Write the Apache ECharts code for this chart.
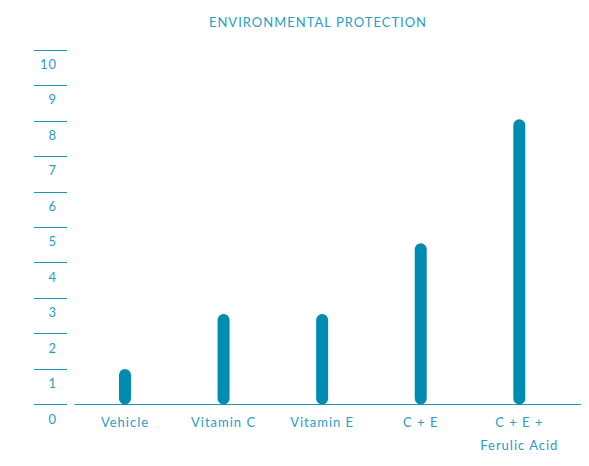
<!DOCTYPE html>
<html>
<head>
<meta charset="utf-8">
<script src="https://cdn.jsdelivr.net/npm/echarts@6/dist/echarts.min.js"></script>
<style>
html,body{margin:0;padding:0;background:#fff;}
#chart{width:589px;height:466px;letter-spacing:1px;}
</style>
</head>
<body>
<div id="chart"></div>
<script>
const title = 'ENVIRONMENTAL PROTECTION';
const categories = ['Vehicle', 'Vitamin C', 'Vitamin E', 'C + E', 'C + E +\nFerulic Acid'];
const values = [1, 2.55, 2.55, 4.55, 8.05];
const yTicks = [0, 1, 2, 3, 4, 5, 6, 7, 8, 9, 10];

const teal = '#1a96bb';
const barColor = '#008cb0';
const textColor = '#2a9dc4';
const font = 'Lato';

const chart = echarts.init(document.getElementById('chart'), null, {renderer: 'svg'});
const gridTop = 50, gridBottom = 61.5;
chart.setOption({
  animation: false,
  backgroundColor: '#fff',
  title: {
    text: title, left: 313, top: 10, textAlign: 'center',
    textStyle: {color: textColor, fontSize: 13, fontWeight: 'normal', fontFamily: font}
  },
  grid: [
    {left: 34, width: 33, top: gridTop, bottom: gridBottom},
    {left: 75.7, right: 20.4, top: gridTop, bottom: gridBottom},
    {left: 75, right: 8.3, top: gridTop, bottom: gridBottom}
  ],
  xAxis: [
    {gridIndex: 0, type: 'value', show: false},
    {gridIndex: 1, type: 'category', data: categories,
     axisLine: {show: false}, axisTick: {show: false},
     axisLabel: {color: textColor, fontSize: 13, fontFamily: font, lineHeight: 23, margin: 6, interval: 0}},
    {gridIndex: 2, type: 'category', data: [''], boundaryGap: false,
     axisLine: {show: true, lineStyle: {color: teal, width: 1}},
     axisTick: {show: false}, axisLabel: {show: false}}
  ],
  yAxis: [
    {gridIndex: 0, type: 'value', min: yTicks[0], max: yTicks[yTicks.length - 1], interval: 1,
     axisLine: {show: false}, axisTick: {show: false},
     splitLine: {show: true, lineStyle: {color: teal, width: 1}},
     axisLabel: {color: textColor, fontSize: 13, fontFamily: font, margin: -23, align: 'right',
                 verticalAlign: 'top', lineHeight: 14, padding: [7, 0, 0, 0]}},
    {gridIndex: 1, type: 'value', min: 0, max: 10, show: false},
    {gridIndex: 2, type: 'value', min: 0, max: 10, show: false}
  ],
  series: [{
    type: 'bar', xAxisIndex: 1, yAxisIndex: 1,
    data: values, barWidth: 12,
    itemStyle: {color: barColor, borderRadius: 6}
  }]
});
</script>
</body>
</html>
